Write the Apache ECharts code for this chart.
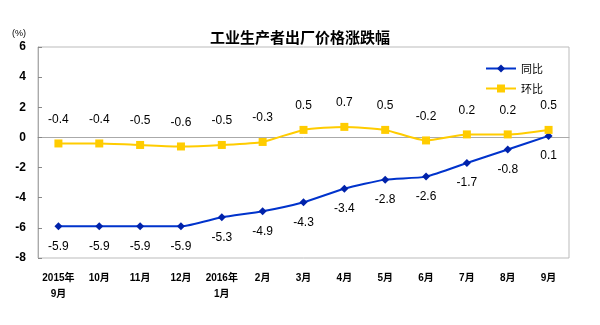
<!DOCTYPE html>
<html><head><meta charset="utf-8">
<script src="https://cdn.jsdelivr.net/npm/echarts@6/dist/echarts.min.js"></script>
<style>html,body{margin:0;padding:0;background:#fff}#c{width:600px;height:325px}</style>
</head><body><div id="c"></div>
<script>
const categories = ['2015年\n9月','10月','11月','12月','2016年\n1月','2月','3月','4月','5月','6月','7月','8月','9月'];
const yoy = [-5.9,-5.9,-5.9,-5.9,-5.3,-4.9,-4.3,-3.4,-2.8,-2.6,-1.7,-0.8,0.1];
const mom = [-0.4,-0.4,-0.5,-0.6,-0.5,-0.3,0.5,0.7,0.5,-0.2,0.2,0.2,0.5];
const yTicks = [-8,-6,-4,-2,0,2,4,6];
const font = 'Arial, "Liberation Sans", "Noto Sans CJK SC", sans-serif';
const chart = echarts.init(document.getElementById('c'));
chart.setOption({
  animation:false,
  title:{text:'工业生产者出厂价格涨跌幅',left:'center',top:25,textStyle:{fontSize:15,fontWeight:'bold',color:'#000',fontFamily:'"Noto Sans CJK SC", sans-serif'}},
  graphic:[{type:'text',left:12,top:29,style:{text:'(%)',font:'9px '+font,fill:'#000'}}],
  legend:{orient:'vertical',right:52,top:58,itemGap:9,itemWidth:30,itemHeight:10,
    textStyle:{fontSize:11,color:'#000',fontFamily:'"Noto Sans CJK SC", sans-serif'},
    data:['同比','环比']},
  grid:{left:38,right:31,top:47,bottom:67,show:true,borderColor:'#bbb',borderWidth:1},
  xAxis:{type:'category',data:categories,boundaryGap:true,
    axisLine:{lineStyle:{color:'#aaa'}},
    axisTick:{inside:true,length:4,lineStyle:{color:'#888'}},
    axisLabel:{interval:0,fontSize:10,fontWeight:'bold',color:'#000',margin:12,lineHeight:16,fontFamily:font}},
  yAxis:{type:'value',min:yTicks[0],max:yTicks[yTicks.length-1],interval:2,
    axisLine:{show:true,lineStyle:{color:'#aaa'}},
    axisTick:{show:true,inside:true,length:4,lineStyle:{color:'#888'}},
    splitLine:{show:false},
    axisLabel:{fontSize:12,fontWeight:'bold',color:'#000',margin:12,fontFamily:font}},
  series:[
    {name:'同比',type:'line',data:yoy,smooth:0.2,symbol:'diamond',symbolSize:8,
      lineStyle:{color:'#0033cc',width:2},itemStyle:{color:'#0022aa'},
      label:{show:true,position:'bottom',distance:10,fontSize:12,color:'#000',fontFamily:font}},
    {name:'环比',type:'line',data:mom,smooth:0.2,symbol:'rect',symbolSize:8,
      lineStyle:{color:'#ffcc00',width:2},itemStyle:{color:'#ffcc00'},
      label:{show:true,position:'top',distance:14,fontSize:12,color:'#000',fontFamily:font}}
  ]
});
</script></body></html>
